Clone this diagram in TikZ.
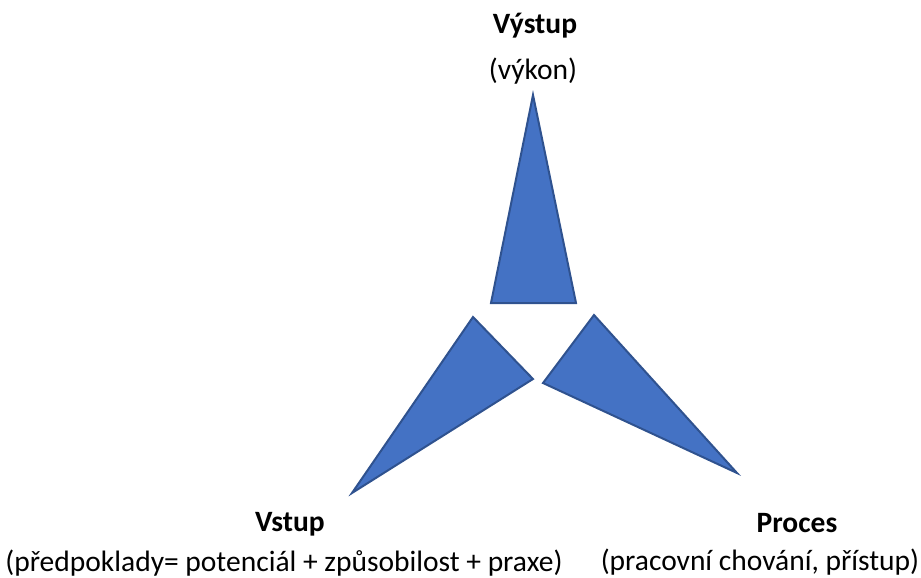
\documentclass[tikz,border=0pt]{standalone}
\usepackage{fontspec}
\setmainfont{Carlito}
\definecolor{blfill}{HTML}{4472C4}
\definecolor{bldraw}{HTML}{2F528F}
\begin{document}
\begin{tikzpicture}[x=1pt,y=-1pt,
  wedge/.style={fill=blfill,draw=bldraw,line width=2pt,line join=miter},
  lbl/.style={inner sep=0pt,anchor=base,font=\fontsize{29.5}{34}\selectfont},
  hd/.style={lbl,font=\fontsize{29.5}{34}\selectfont\bfseries}]
\useasboundingbox (0,0) rectangle (921,578);
% top
\draw[wedge] (533,95) -- (576,303) -- (491,303) -- cycle;
% left
\draw[wedge] (473,317) -- (533,379) -- (352,493) -- cycle;
% right
\draw[wedge] (594,315) -- (737,473) -- (543,383) -- cycle;
\node[hd] (vy) at (535,34) {Výstup};
\node[lbl] (vyk) at (533,80) {(výkon)};
\node[hd] (vs) at (290,531) {Vstup};
\node[lbl] (pred) at (284,571) {(předpoklady= potenciál + způsobilost + praxe)};
\node[hd] (pr) at (797,532) {Proces};
\node[lbl] (prac) at (760,570) {(pracovní chování, přístup)};
\end{tikzpicture}
\end{document}
